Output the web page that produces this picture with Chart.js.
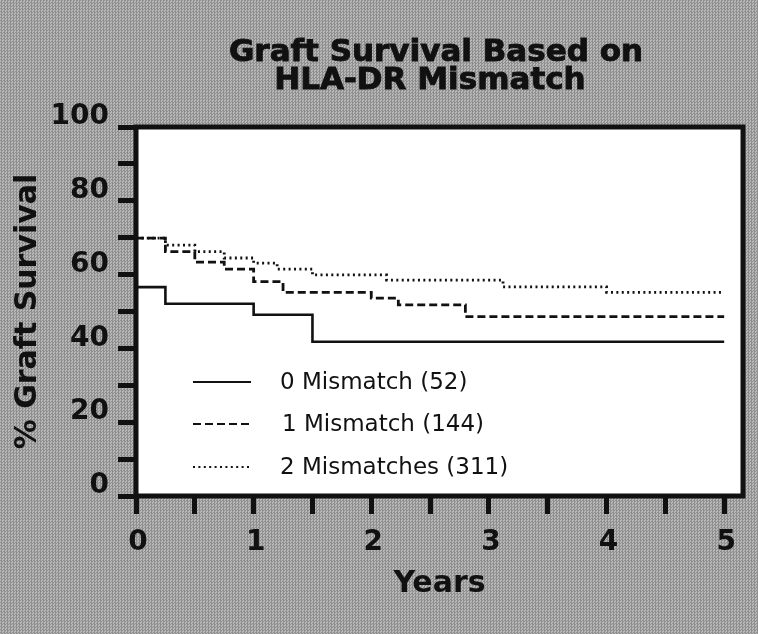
<!DOCTYPE html>
<html>
<head>
<meta charset="utf-8">
<script src="https://cdn.jsdelivr.net/npm/chart.js@4.4.1/dist/chart.umd.min.js"></script>
<style>
html,body{margin:0;padding:0;}
body{width:758px;height:634px;overflow:hidden;position:relative;
  background-color:#a3a3a3;
  background-image:repeating-conic-gradient(#8f8f8f 0 25%, #b8b8b8 0 50%);
  background-size:3px 3px;
  font-family:"DejaVu Sans",sans-serif;color:#111;}
#c{position:absolute;left:0;top:0;}
.title{position:absolute;font-weight:bold;font-size:31px;line-height:1;white-space:nowrap;transform:translate(-50%,-50%);color:#111;-webkit-text-stroke:0.9px #111;}
.legtxt{position:absolute;font-size:23px;line-height:1;white-space:nowrap;transform:translateY(-50%);color:#111;}
.legline{position:absolute;}
</style>
</head>
<body>
<canvas id="c" width="758" height="634"></canvas>
<div class="title" style="left:436px;top:50px;">Graft Survival Based on</div>
<div class="title" style="left:430px;top:78px;">HLA-DR Mismatch</div>
<div id="legend"></div>
<script>
// ---- data ----
const seriesNames = ['0 Mismatch (52)', '1 Mismatch (144)', '2 Mismatches (311)'];

const years0 = [0, 0.25, 1.0, 1.5, 5];
const surv0  = [56.6, 52.1, 49.1, 41.8, 41.8];

const years1 = [0, 0.25, 0.5, 0.75, 1.0, 1.25, 2.0, 2.23, 2.8, 5];
const surv1  = [69.9, 66.2, 63.4, 61.5, 58.1, 55.2, 53.6, 51.8, 48.6, 48.6];

const years2 = [0, 0.25, 0.5, 0.75, 1.0, 1.2, 1.5, 2.13, 3.12, 4.0, 5];
const surv2  = [69.9, 68.0, 66.2, 64.5, 63.1, 61.5, 59.9, 58.5, 56.7, 55.2, 55.2];

const xTickLabels = [0, 1, 2, 3, 4, 5];
const yTickLabels = [0, 20, 40, 60, 80, 100];

// ---- styles ----
const dashStyles = [[], [8, 4], [2, 3.4]];
const lineWidths = [2.6, 2.8, 2.8];
const INK = '#111';

function pts(xs, ys){ return xs.map((x, i) => ({x: x, y: ys[i]})); }

const allYears = [years0, years1, years2];
const allSurv = [surv0, surv1, surv2];

const datasets = seriesNames.map((name, i) => ({
  label: name,
  data: pts(allYears[i], allSurv[i]),
  borderColor: INK,
  borderWidth: lineWidths[i],
  borderDash: dashStyles[i],
  stepped: 'before',
  pointRadius: 0,
  fill: false
}));

// legend (HTML)
const legY = [382, 424, 467];
const legend = document.getElementById('legend');
seriesNames.forEach((name, i) => {
  const svgNS = 'http://www.w3.org/2000/svg';
  const svg = document.createElementNS(svgNS, 'svg');
  svg.setAttribute('width', '60'); svg.setAttribute('height', '8');
  svg.setAttribute('class', 'legline');
  svg.style.left = '193px'; svg.style.top = (legY[i] - 4) + 'px';
  const ln = document.createElementNS(svgNS, 'line');
  ln.setAttribute('x1', '0'); ln.setAttribute('x2', '58');
  ln.setAttribute('y1', '4'); ln.setAttribute('y2', '4');
  ln.setAttribute('stroke', INK); ln.setAttribute('stroke-width', '2');
  if (dashStyles[i].length) ln.setAttribute('stroke-dasharray', dashStyles[i].join(' '));
  svg.appendChild(ln);
  legend.appendChild(svg);
  const t = document.createElement('div');
  t.className = 'legtxt';
  t.textContent = name;
  t.style.left = (i === 1 ? 282 : 280) + 'px';
  t.style.top = (legY[i] - 1) + 'px';
  legend.appendChild(t);
});

const frame = {
  id: 'frame',
  beforeDraw(chart){
    const {ctx, chartArea: a} = chart;
    ctx.save();
    ctx.fillStyle = '#ffffff';
    ctx.fillRect(a.left, a.top, a.right - a.left, a.bottom - a.top);
    ctx.restore();
  },
  afterDatasetsDraw(chart){
    const {ctx, chartArea: a} = chart;
    ctx.save();
    ctx.strokeStyle = INK;
    ctx.lineWidth = 5;
    ctx.strokeRect(a.left, a.top, a.right - a.left, a.bottom - a.top);
    ctx.restore();
  }
};

const CA = {left: 136, top: 127, right: 743, bottom: 496};

new Chart(document.getElementById('c'), {
  type: 'line',
  data: {datasets: datasets},
  plugins: [frame],
  options: {
    responsive: false,
    animation: false,
    devicePixelRatio: 1,
    layout: {padding: {top: CA.top, right: 758 - CA.right, left: 0, bottom: 0}},
    plugins: {legend: {display: false}, tooltip: {enabled: false}, title: {display: false}},
    scales: {
      x: {
        type: 'linear',
        min: 0, max: 5.16,
        afterFit(s){ s.height = 634 - CA.bottom; },
        border: {display: false},
        grid: {display: true, drawOnChartArea: false, drawTicks: true, tickLength: 18, tickWidth: 5, tickColor: INK},
        ticks: {
          stepSize: 0.5, autoSkip: false, includeBounds: false, maxRotation: 0,
          padding: 12, labelOffset: 2, color: INK,
          font: {family: '"DejaVu Sans"', size: 28, weight: 'bold'},
          callback: (v) => xTickLabels.includes(v) ? String(v) : ''
        },
        title: {display: true, text: 'Years', color: INK,
          font: {family: '"DejaVu Sans"', size: 30, weight: 'bold'},
          padding: {top: 0, bottom: 32}}
      },
      y: {
        type: 'linear',
        min: 0, max: 100,
        afterFit(s){ s.width = CA.left; },
        border: {display: false},
        grid: {display: true, drawOnChartArea: false, drawTicks: true, tickLength: 18, tickWidth: 5, tickColor: INK},
        ticks: {
          stepSize: 10, autoSkip: false, includeBounds: false,
          padding: 9, labelOffset: -10, color: INK,
          font: {family: '"DejaVu Sans"', size: 28, weight: 'bold'},
          callback: (v) => yTickLabels.includes(v) ? String(v) : ''
        },
        title: {display: true, text: '% Graft Survival', color: INK,
          font: {family: '"DejaVu Sans"', size: 30, weight: 'bold'},
          padding: {top: 10, bottom: 0}}
      }
    }
  }
});
</script>
</body>
</html>
